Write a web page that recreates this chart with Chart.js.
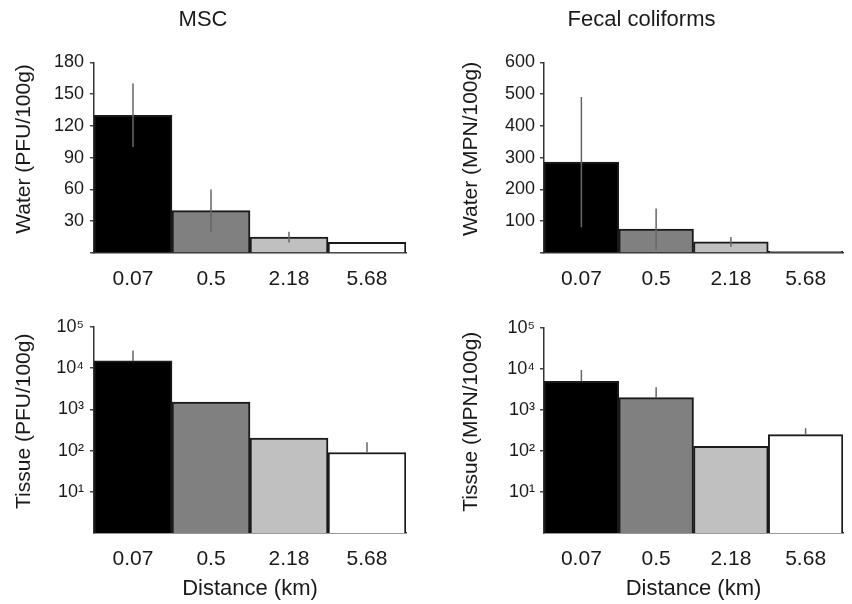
<!DOCTYPE html>
<html>
<head>
<meta charset="utf-8">
<script src="https://cdn.jsdelivr.net/npm/chart.js@4"></script>
<style>
body{margin:0;background:#fff;overflow:hidden;width:852px;height:604px;position:relative}
canvas{position:absolute}
</style>
</head>
<body>
<canvas id="waterMsc" width="484" height="300" style="left:0;top:0"></canvas>
<canvas id="waterFc" width="512" height="300" style="left:440px;top:0"></canvas>
<canvas id="tissueMsc" width="484" height="304" style="left:0;top:300px"></canvas>
<canvas id="tissueFc" width="512" height="304" style="left:440px;top:300px"></canvas>
<script>
// data
const distances = ['0.07', '0.5', '2.18', '5.68'];
const waterMsc = [130, 40, 15, 10];
const waterMscSd = [30, 20, 5, 0];
const waterFc = [286, 75, 35, 5];
const waterFcSd = [205, 65, 15, 0];
const tissueMsc = [15000, 1500, 200, 90];
const tissueMscUpper = [27000, null, null, 160];
const tissueFc = [5000, 2000, 130, 250];
const tissueFcUpper = [9500, 3600, null, 360];
const barColors = ['#000000', '#808080', '#c0c0c0', '#ffffff'];
const logTicks = [10, 100, 1000, 10000, 100000];
const logLabels = ['10¹', '10²', '10³', '10⁴', '10⁵'];

Chart.defaults.font.family = '"Liberation Sans", Arial, sans-serif';
Chart.defaults.color = '#1a1a1a';

// vertical error lines
const errorBars = {
    id: 'errorBars',
    afterDatasetsDraw(chart) {
        const ds = chart.data.datasets[0];
        const meta = chart.getDatasetMeta(0);
        const y = chart.scales.y;
        const ctx = chart.ctx;
        ctx.save();
        ctx.strokeStyle = '#666';
        ctx.lineWidth = 1.5;
        meta.data.forEach(function(bar, i){
            const lo = ds.errLow[i], hi = ds.errHigh[i];
            if (hi == null) return;
            ctx.beginPath();
            ctx.moveTo(bar.x, y.getPixelForValue(lo));
            ctx.lineTo(bar.x, y.getPixelForValue(hi));
            ctx.stroke();
        });
        ctx.restore();
    }
};

function drawPanel(id, p){
    const yScale = {
        type: p.log ? 'logarithmic' : 'linear',
        min: p.log ? 1 : 0,
        max: p.max,
        grid: {display: true, drawOnChartArea: false, drawTicks: true, tickLength: 4, color: '#444', lineWidth: 1.5},
        border: {display: true, color: '#333', width: 1.5},
        ticks: {
            font: {size: 18},
            padding: p.tickPad,
            callback: function(v){
                if (p.log) {
                    const k = logTicks.indexOf(v);
                    return k < 0 ? '' : logLabels[k];
                }
                return v === 0 ? '' : v;
            }
        },
        // leading spaces nudge the rotated title up a little, as in the original
        title: {display: true, text: '   ' + p.yTitle, font: {size: 21}, padding: {top: p.yTitlePad, bottom: 0}},
        afterFit: function(s){ s.width = p.yWidth; }
    };
    if (p.log) {
        yScale.afterBuildTicks = function(s){ s.ticks = logTicks.map(v => ({value: v})); };
    } else {
        yScale.ticks.stepSize = p.step;
    }
    const config = {
        type: 'bar',
        data: {
            labels: distances,
            datasets: [{
                data: p.values,
                errLow: p.errLow,
                errHigh: p.errHigh,
                backgroundColor: barColors,
                borderColor: '#1a1a1a',
                borderWidth: 2,
                barPercentage: 1,
                categoryPercentage: 1
            }]
        },
        options: {
            responsive: false,
            animation: false,
            layout: {padding: {top: p.top, right: p.right, left: 0, bottom: 0}},
            plugins: {
                legend: {display: false},
                tooltip: {enabled: false},
                title: {
                    display: !!p.title,
                    text: p.title,
                    font: {size: 22, weight: 'normal'},
                    color: '#1a1a1a',
                    padding: {top: 7, bottom: 29}
                }
            },
            scales: {
                x: {
                    grid: {display: false, drawTicks: false},
                    border: {display: true, color: '#333', width: 1.5},
                    ticks: {font: {size: 21}, padding: 14},
                    title: {display: !!p.xTitle, text: p.xTitle, font: {size: 22}, padding: {top: 0, bottom: 2}},
                    afterFit: function(s){ s.height = p.xHeight; }
                },
                y: yScale
            }
        },
        plugins: [errorBars]
    };
    return new Chart(document.getElementById(id), config);
}

//render
drawPanel('waterMsc', {
    values: waterMsc,
    errLow: waterMsc.map((v, i) => waterMscSd[i] ? v - waterMscSd[i] : null),
    errHigh: waterMsc.map((v, i) => waterMscSd[i] ? v + waterMscSd[i] : null),
    max: 180, step: 30, title: 'MSC', yTitle: 'Water (PFU/100g)', yTitlePad: 12, tickPad: 6,
    yWidth: 94, right: 78, top: 0, xHeight: 47
});
drawPanel('waterFc', {
    values: waterFc,
    errLow: waterFc.map((v, i) => waterFcSd[i] ? v - waterFcSd[i] : null),
    errHigh: waterFc.map((v, i) => waterFcSd[i] ? v + waterFcSd[i] : null),
    max: 600, step: 100, title: 'Fecal coliforms', yTitle: 'Water (MPN/100g)', yTitlePad: 19, tickPad: 5,
    yWidth: 104, right: 109, top: 0, xHeight: 47
});
drawPanel('tissueMsc', {
    values: tissueMsc, errLow: tissueMsc, errHigh: tissueMscUpper,
    log: true, max: 100000, yTitle: 'Tissue (PFU/100g)', yTitlePad: 12, tickPad: 6, xTitle: 'Distance (km)',
    yWidth: 94, right: 78, top: 27, xHeight: 71
});
drawPanel('tissueFc', {
    values: tissueFc, errLow: tissueFc, errHigh: tissueFcUpper,
    log: true, max: 100000, yTitle: 'Tissue (MPN/100g)', yTitlePad: 19, tickPad: 5, xTitle: 'Distance (km)',
    yWidth: 104, right: 109, top: 28, xHeight: 71
});
</script>
</body>
</html>
